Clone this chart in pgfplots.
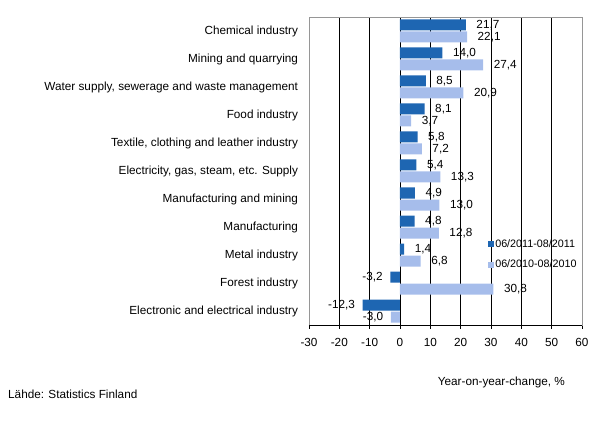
\documentclass[border=0pt]{standalone}
\usepackage{fontspec}
\setmainfont{Liberation Sans}
\usepackage{pgfplots}
\pgfplotsset{compat=1.18}
\definecolor{darkbar}{RGB}{30,102,178}
\definecolor{lightbar}{RGB}{166,189,235}
\definecolor{frame}{RGB}{150,150,150}
\newcommand{\lbl}{\fontsize{11.8}{14}\selectfont}
\pgfplotsset{sqlegend/.style={legend image code/.code={\fill[#1, draw=none] (-1bp,-3.5bp) rectangle (5bp,2.5bp);}}}
\begin{document}
\begin{tikzpicture}
\begin{axis}[
  at={(0,0)}, anchor=south west,
  width=273bp, height=308bp, scale only axis,
  xbar, bar width=11bp,
  every axis plot post/.append style={sqlegend},
  xmin=-30, xmax=60, ymin=-0.5, ymax=10.5,
  xtick={-30,-20,...,60},
  ytick={0,...,10},
  yticklabels={Electronic and electrical industry, Forest industry, Metal industry,
    Manufacturing, Manufacturing and mining, {Electricity, gas, steam, etc. Supply},
    {Textile, clothing and leather industry}, Food industry,
    {Water supply, sewerage and waste management}, Mining and quarrying, Chemical industry},
  ytick style={draw=none},
  xtick pos=left,
  tick align=center, major tick length=7bp,
  tick style={black, line width=0.6bp},
  xmajorgrids, grid style={black, line width=0.6bp},
  axis line style={frame, line width=0.8bp},
  tick label style={font=\lbl},
  xticklabel style={yshift=-6bp},
  yticklabel style={xshift=-4bp},
  /pgf/number format/assume math mode=true,
  point meta=x,
  visualization depends on={rawx \as \rawx},
  nodes near coords={\pgfmathprintnumber[fixed,fixed zerofill,precision=1,use comma]{\pgfplotspointmeta}},
  nodes near coords align=horizontal,
  every node near coord/.append style={font=\lbl, black, inner xsep=0pt,
    xshift={ifthenelse(\rawx<0,-7.5,10.5)}},
  xlabel={Year-on-year-change, \%},
  xlabel style={at={(axis description cs:0.938,-0.188)}, anchor=east, inner sep=0pt, font=\lbl},
  legend style={at={(rel axis cs:0.656,0.2305)}, anchor=west, draw=none, fill=none,
    font=\fontsize{10.8}{13}\selectfont, row sep=9bp, inner sep=0pt,
    nodes={inner sep=1bp}},
  legend cell align=left,
]
\addplot[fill=darkbar, draw=none, bar shift=6bp] coordinates {
  (-12.3,0) (-3.2,1) (1.4,2) (4.8,3) (4.9,4) (5.4,5) (5.8,6) (8.1,7) (8.5,8) (14.0,9) (21.7,10)};
\addplot[fill=lightbar, draw=none, bar shift=-6bp] coordinates {
  (-3.0,0) (30.8,1) (6.8,2) (12.8,3) (13.0,4) (13.3,5) (7.2,6) (3.7,7) (20.9,8) (27.4,9) (22.1,10)};
\legend{06/2011-08/2011, 06/2010-08/2010}
\draw[black, line width=0.6bp] (axis cs:-30,-0.5) -- (axis cs:60,-0.5);
\end{axis}
\node[anchor=west, font=\lbl, inner sep=0pt] at (-301bp,-69bp) {Lähde: Statistics Finland};
\pgfresetboundingbox
\useasboundingbox (-309bp,-96bp) rectangle (289bp,325bp);
\end{tikzpicture}
\end{document}
